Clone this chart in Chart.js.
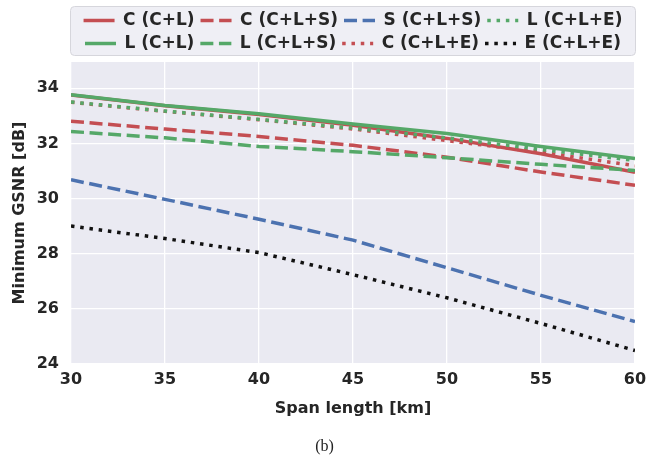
<!DOCTYPE html>
<html>
<head>
<meta charset="utf-8">
<script src="https://cdn.jsdelivr.net/npm/chart.js@4/dist/chart.umd.min.js"></script>
<style>
  html, body { margin: 0; padding: 0; background: #ffffff; }
  #wrap { position: relative; width: 649px; height: 462px; }
  #caption { position: absolute; left: 0; width: 649px; top: 437px; text-align: center;
             font-family: "Liberation Serif", "DejaVu Serif", serif; font-size: 16px; color: #222; }
</style>
</head>
<body>
<div id="wrap">
  <canvas id="grafico" width="649" height="462"></canvas>
  <div id="caption">(b)</div>
</div>
<script>
// datos
const spanKm = [30, 35, 40, 45, 50, 55, 60];
const xTicks = [30, 35, 40, 45, 50, 55, 60];
const yTicks = [24, 26, 28, 30, 32, 34];

const cCL   = [33.75, 33.36, 33.05, 32.66, 32.18, 31.62, 30.95];
const lCL   = [33.76, 33.37, 33.07, 32.70, 32.36, 31.89, 31.45];
const cCLS  = [32.80, 32.52, 32.25, 31.93, 31.50, 30.96, 30.48];
const lCLS  = [32.43, 32.20, 31.89, 31.70, 31.48, 31.24, 31.02];
const sCLS  = [30.68, 29.97, 29.25, 28.49, 27.49, 26.49, 25.54];
const cCLE  = [33.49, 33.16, 32.86, 32.52, 32.10, 31.68, 31.19];
const lCLE  = [33.50, 33.17, 32.87, 32.55, 32.20, 31.78, 31.38];
const eCLE  = [29.00, 28.55, 28.04, 27.24, 26.40, 25.47, 24.49];

const ROJO = '#C44E52', VERDE = '#55A868', AZUL = '#4C72B0', NEGRO = '#111111';
const DASH = [13, 5.6], DOT = [3.5, 5.8];

// orden de matplotlib (el ultimo queda encima); rank = posicion en la leyenda
const series = [
  { label: 'C (C+L)',   data: cCL,  color: ROJO,  dash: [] ,  rank: 0 },
  { label: 'L (C+L)',   data: lCL,  color: VERDE, dash: [] ,  rank: 4 },
  { label: 'C (C+L+S)', data: cCLS, color: ROJO,  dash: DASH, rank: 1 },
  { label: 'L (C+L+S)', data: lCLS, color: VERDE, dash: DASH, rank: 5 },
  { label: 'S (C+L+S)', data: sCLS, color: AZUL,  dash: DASH, rank: 2 },
  { label: 'C (C+L+E)', data: cCLE, color: ROJO,  dash: DOT,  rank: 6 },
  { label: 'L (C+L+E)', data: lCLE, color: VERDE, dash: DOT,  rank: 3 },
  { label: 'E (C+L+E)', data: eCLE, color: NEGRO, dash: DOT,  rank: 7 }
];

const datasets = series.map((s, i) => ({
  label: s.label,
  data: s.data.map((v, k) => ({ x: spanKm[k], y: v })),
  borderColor: s.color,
  backgroundColor: s.color,
  borderDash: s.dash,
  borderWidth: 3.5,
  pointRadius: 0,
  tension: 0,
  order: series.length - 1 - i,
  rank: s.rank
}));

const FUENTE = '"DejaVu Sans", sans-serif';
const TEXTO = '#262626';

const fondoPlot = {
  id: 'fondoPlot',
  beforeDraw(chart) {
    const { ctx, chartArea: a } = chart;
    ctx.save();
    ctx.fillStyle = '#EAEAF2';
    ctx.fillRect(a.left, a.top, a.right - a.left, a.bottom - a.top);
    // marco de la leyenda
    const x0 = 70.5, x1 = 635.5, y0 = 6.5, y1 = 55.5, r = 4;
    ctx.beginPath();
    ctx.moveTo(x0 + r, y0);
    ctx.arcTo(x1, y0, x1, y1, r);
    ctx.arcTo(x1, y1, x0, y1, r);
    ctx.arcTo(x0, y1, x0, y0, r);
    ctx.arcTo(x0, y0, x1, y0, r);
    ctx.closePath();
    ctx.fillStyle = '#EFEFF5';
    ctx.fill();
    ctx.strokeStyle = '#D6D6DC';
    ctx.lineWidth = 1;
    ctx.stroke();
    ctx.restore();
  }
};

new Chart(document.getElementById('grafico'), {
  type: 'line',
  data: { datasets },
  options: {
    responsive: false,
    animation: false,
    layout: { padding: { left: 8, right: 14, top: 6, bottom: 44 } },
    plugins: {
      tooltip: { enabled: false },
      legend: {
        position: 'top',
        fullSize: false,
        labels: {
          usePointStyle: true,
          pointStyle: 'line',
          pointStyleWidth: 31,
          boxHeight: 17,
          padding: 6,
          color: TEXTO,
          font: { family: FUENTE, size: 17, weight: 'bold' },
          sort: (a, b) => datasets[a.datasetIndex].rank - datasets[b.datasetIndex].rank,
          generateLabels(chart) {
            return chart.data.datasets.map((d, i) => ({
              text: d.label,
              datasetIndex: i,
              strokeStyle: d.borderColor,
              fillStyle: d.borderColor,
              lineWidth: 3.5,
              lineDash: d.borderDash,
              pointStyle: 'line',
              fontColor: TEXTO
            }));
          }
        }
      }
    },
    scales: {
      x: {
        type: 'linear',
        min: 30, max: 60,
        afterBuildTicks: s => { s.ticks = xTicks.map(v => ({ value: v })); },
        afterFit: s => { s.height = 54; s.paddingLeft = 0; s.paddingRight = 0; },
        grid: { color: '#FFFFFF', lineWidth: 1.3, drawTicks: false },
        border: { display: false },
        ticks: { padding: 6, color: TEXTO, font: { family: FUENTE, size: 16, weight: 'bold' } },
        title: { display: true, text: 'Span length [km]', color: TEXTO,
                 font: { family: FUENTE, size: 16, weight: 'bold' }, padding: { top: 2, bottom: 0 } }
      },
      y: {
        min: 24, max: 34.95,
        afterBuildTicks: s => { s.ticks = yTicks.map(v => ({ value: v })); },
        afterFit: s => { s.width = 71 - 8; },
        grid: { color: '#FFFFFF', lineWidth: 1.3, drawTicks: false },
        border: { display: false },
        ticks: { padding: 12, color: TEXTO, font: { family: FUENTE, size: 16, weight: 'bold' } },
        title: { display: true, text: 'Minimum GSNR [dB]', color: TEXTO,
                 font: { family: FUENTE, size: 16, weight: 'bold' }, padding: { top: 2, bottom: 2 } }
      }
    }
  },
  plugins: [fondoPlot]
});
</script>
</body>
</html>
